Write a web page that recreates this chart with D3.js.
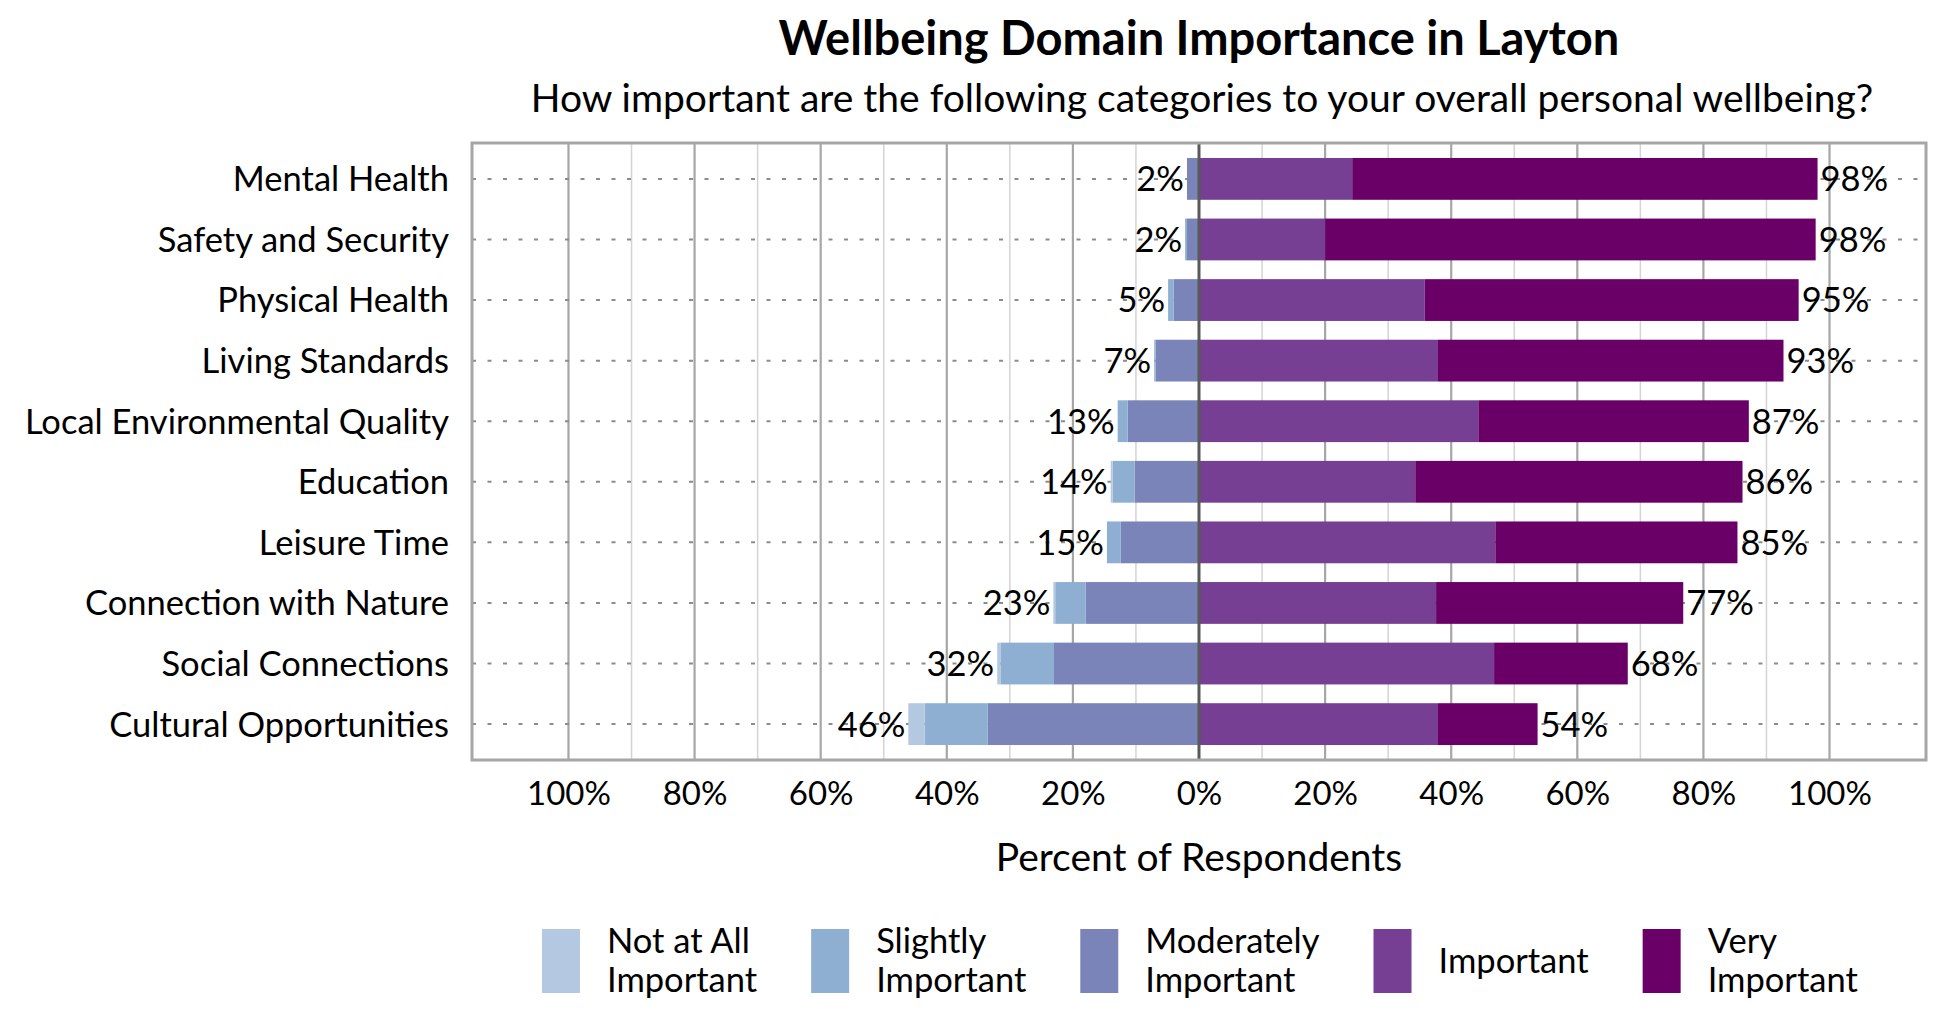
<!DOCTYPE html>
<html>
<head>
<meta charset="utf-8">
<script src="https://cdn.jsdelivr.net/npm/d3@7"></script>
<style>
  body { margin: 0; background: #fff; }
  text { font-family: Lato, "Open Sans", sans-serif; fill: #000; }
</style>
</head>
<body>
<svg id="chart" width="1950" height="1020"></svg>
<script>
// --- Data (percent of respondents)
const categories = [
    "Mental Health", "Safety and Security", "Physical Health", "Living Standards",
    "Local Environmental Quality", "Education", "Leisure Time",
    "Connection with Nature", "Social Connections", "Cultural Opportunities"
]
const notAtAll      = [0,    0,    0,    0,    0,    0.3,  0,    0.3,  0.5,  2.6]
const slightly      = [0,    0.3,  0.9,  0.2,  1.6,  3.5,  2.2,  4.8,  8.5,  10.0]
const moderately    = [1.9,  1.9,  4.0,  6.9,  11.3, 10.2, 12.4, 18.0, 23.0, 33.5]
const important     = [24.3, 20.0, 35.8, 37.9, 44.3, 34.3, 47.0, 37.6, 46.8, 37.9]
const veryImportant = [73.8, 77.8, 59.3, 54.8, 42.9, 51.9, 38.4, 39.2, 21.2, 15.8]
const negLabels = [2, 2, 5, 7, 13, 14, 15, 23, 32, 46]
const posLabels = [98, 98, 95, 93, 87, 86, 85, 77, 68, 54]
const xTicks = [-100, -80, -60, -40, -20, 0, 20, 40, 60, 80, 100]
const legendLabels = [
    ["Not at All", "Important"], ["Slightly", "Important"], ["Moderately", "Important"],
    ["Important"], ["Very", "Important"]
]

const keys = ["notAtAll", "slightly", "moderately", "important", "very"]
const colors = {
    notAtAll: "#b4c9e1", slightly: "#8eafd2", moderately: "#7a84b8",
    important: "#763f94", very: "#6a0067"
}

// rows for d3.stack, the "less important" answers go negative
const rows = categories.map((c, i) => ({
    cat: c,
    moderately: -moderately[i],
    slightly: -slightly[i],
    notAtAll: -notAtAll[i],
    important: important[i],
    very: veryImportant[i]
}))

const series = d3.stack()
    .keys(["moderately", "slightly", "notAtAll", "important", "very"])
    .offset(d3.stackOffsetDiverging)(rows)

// --- Layout
const plot = { left: 472, right: 1926, top: 143, bottom: 760 }
const svg = d3.select("#chart")
const fontSize = 34.5

const x = d3.scaleLinear().domain([-115.3, 115.3]).range([plot.left, plot.right])
const y = d3.scaleBand().domain(categories).range([148.6, 754.4]).paddingInner(0.31).paddingOuter(0.155)

// title + subtitle
const midX = (plot.left + plot.right) / 2
svg.append("text")
    .attr("x", midX).attr("y", 55)
    .attr("text-anchor", "middle")
    .style("font-size", "47px").style("font-weight", "bold")
    .text("Wellbeing Domain Importance in Layton")
svg.append("text")
    .attr("x", midX + 3).attr("y", 112)
    .attr("text-anchor", "middle")
    .style("font-size", "39px")
    .text("How important are the following categories to your overall personal wellbeing?")

// gridlines
const grid = svg.append("g")
grid.selectAll("line")
    .data(d3.range(-100, 101, 10).filter(v => v !== 0))
    .join("line")
    .attr("x1", d => x(d)).attr("x2", d => x(d))
    .attr("y1", plot.top).attr("y2", plot.bottom)
    .attr("stroke", d => d % 20 === 0 ? "#a6a6a6" : "#d4d4d4")
    .attr("stroke-width", d => d % 20 === 0 ? 2.2 : 1.5)

// dotted row guides
svg.append("g").selectAll("line")
    .data(categories)
    .join("line")
    .attr("x1", plot.left).attr("x2", plot.right)
    .attr("y1", d => y(d) + y.bandwidth() / 2)
    .attr("y2", d => y(d) + y.bandwidth() / 2)
    .attr("stroke", "#8c8c8c")
    .attr("stroke-width", 2)
    .attr("stroke-dasharray", "4 11.5")

// bars
svg.append("g").selectAll("g")
    .data(series)
    .join("g")
    .attr("fill", d => colors[d.key])
    .selectAll("rect")
    .data(d => d)
    .join("rect")
    .attr("x", d => x(d[0]))
    .attr("width", d => x(d[1]) - x(d[0]))
    .attr("y", d => y(d.data.cat))
    .attr("height", y.bandwidth())

// zero line and frame
svg.append("line")
    .attr("x1", x(0)).attr("x2", x(0))
    .attr("y1", plot.top).attr("y2", plot.bottom)
    .attr("stroke", "#595959").attr("stroke-width", 3)
svg.append("rect")
    .attr("x", plot.left).attr("y", plot.top)
    .attr("width", plot.right - plot.left).attr("height", plot.bottom - plot.top)
    .attr("fill", "none").attr("stroke", "#a6a6a6").attr("stroke-width", 3)

// total labels on both ends
const negTotal = i => moderately[i] + slightly[i] + notAtAll[i]
const posTotal = i => important[i] + veryImportant[i]
svg.append("g").selectAll("text")
    .data(categories)
    .join("text")
    .attr("x", (d, i) => x(-negTotal(i)) - 3)
    .attr("y", d => y(d) + y.bandwidth() / 2)
    .attr("dy", "0.36em")
    .attr("text-anchor", "end")
    .style("font-size", fontSize + "px")
    .text((d, i) => negLabels[i] + "%")
svg.append("g").selectAll("text")
    .data(categories)
    .join("text")
    .attr("x", (d, i) => x(posTotal(i)) + 3)
    .attr("y", d => y(d) + y.bandwidth() / 2)
    .attr("dy", "0.36em")
    .style("font-size", fontSize + "px")
    .text((d, i) => posLabels[i] + "%")

// axes
const xAxis = svg.append("g")
    .attr("transform", `translate(0,${plot.bottom})`)
    .call(d3.axisBottom(x).tickValues(xTicks).tickSize(0).tickFormat(d => Math.abs(d) + "%"))
xAxis.select(".domain").remove()
xAxis.selectAll("text")
    .attr("y", 45).attr("dy", 0)
    .style("font-size", "33px")
    .style("font-family", null)

const yAxis = svg.append("g")
    .attr("transform", `translate(${plot.left},0)`)
    .call(d3.axisLeft(y).tickSize(0).tickPadding(23))
yAxis.select(".domain").remove()
yAxis.selectAll("text")
    .attr("dy", "0.36em")
    .style("font-size", fontSize + "px")
    .style("font-family", null)

svg.append("text")
    .attr("x", midX).attr("y", 871)
    .attr("text-anchor", "middle")
    .style("font-size", "39px")
    .text("Percent of Respondents")

// legend, items laid out by their measured text width
const legend = svg.append("g")
let lx = 542
legendLabels.forEach((lines, i) => {
    const item = legend.append("g").attr("transform", `translate(${lx},0)`)
    item.append("rect")
        .attr("x", 0).attr("y", 929)
        .attr("width", 38).attr("height", 64)
        .attr("fill", colors[keys[i]])
    const txt = item.append("text")
        .style("font-size", fontSize + "px")
    lines.forEach((line, j) => {
        const base = lines.length === 1 ? 973 : 953 + j * 39
        txt.append("tspan").attr("x", 65).attr("y", base).text(line)
    })
    const w = d3.max(txt.selectAll("tspan").nodes(), n => n.getComputedTextLength())
    lx += 65 + w + 54
})
</script>
</body>
</html>
